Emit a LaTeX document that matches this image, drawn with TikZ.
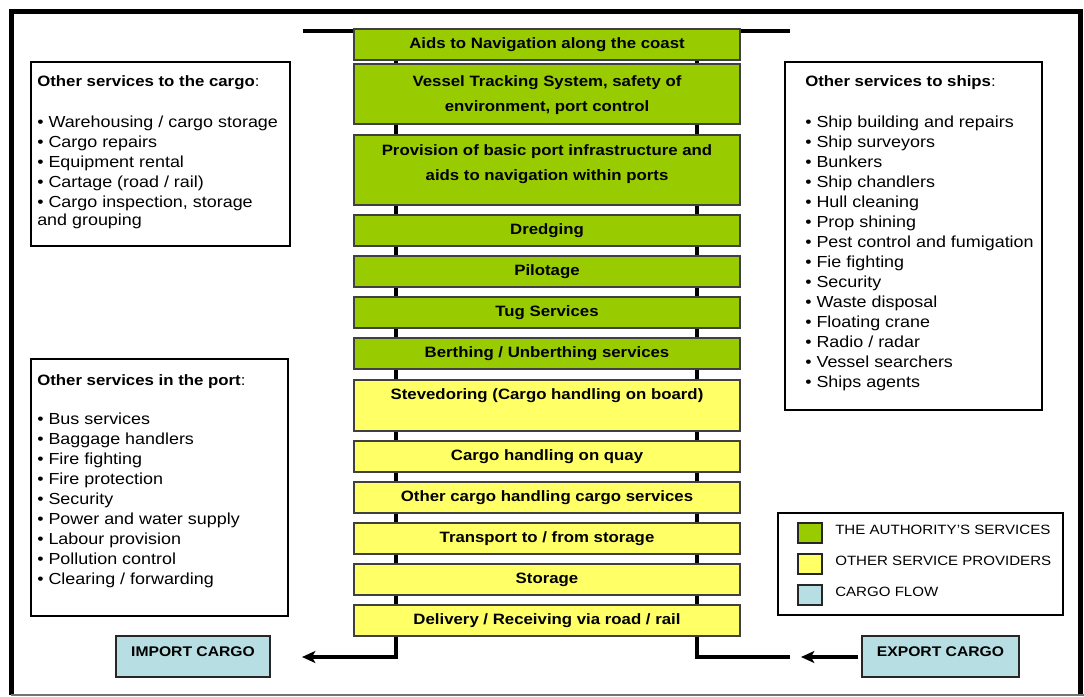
\documentclass[tikz,border=0pt]{standalone}
\usepackage{fontspec}
\setmainfont{Liberation Sans}[FakeStretch=1.12]
\usetikzlibrary{arrows.meta}
\definecolor{authgreen}{HTML}{99CC00}
\definecolor{provyellow}{HTML}{FFFF66}
\definecolor{flowcyan}{HTML}{B7DEE3}
\begin{document}
\begin{tikzpicture}[x=0.75pt,y=-0.75pt,
  svc/.style={draw=black!75, line width=1pt, minimum width=289.5pt, inner sep=0pt,
    font=\fontsize{11.25pt}{18.75pt}\selectfont\bfseries},
  auth/.style={svc, fill=authgreen},
  prov/.style={svc, fill=provyellow},
  one/.style={minimum height=23.25pt, text height=8.2pt, text depth=2.4pt},
  infobox/.style={draw=black, line width=1.2pt, inner sep=0pt},
  cargo/.style={draw=black!85, line width=1.2pt, fill=flowcyan, inner sep=0pt,
    minimum height=30.75pt, text height=7.5pt, text depth=8.25pt,
    font=\fontsize{10.5pt}{12pt}\selectfont\bfseries},
  swatch/.style={draw=black!85, line width=1pt, inner sep=0pt, minimum width=18pt, minimum height=15pt},
  item/.style={anchor=base west, inner sep=0pt, font=\fontsize{12pt}{14pt}\selectfont},
  ttl/.style={anchor=base west, inner sep=0pt, font=\fontsize{11.25pt}{14pt}\selectfont},
  lgd/.style={anchor=base west, inner sep=0pt, font=\fontsize{10.1pt}{12pt}\selectfont},
  frame/.style={line width=3.75pt},
  rail/.style={line width=3pt},
  flow/.style={line width=3pt, -{Stealth[length=10pt,width=9pt,inset=2.5pt]}}
]
\useasboundingbox (0,0) rectangle (1084,696);
% outer frame
\draw[frame] (11,695) -- (11,11) -- (1080.5,11) -- (1080.5,695);
\draw[draw=black!55, line width=0.9pt] (11,695) -- (1084,695);

% connector coordinates
\coordinate (tl) at (303,31);
\coordinate (tr) at (790,31);
\coordinate (rl) at (396,31);
\coordinate (rr) at (697,31);
\coordinate (cl) at (396,657);
\coordinate (cr) at (697,657);
\coordinate (impTip) at (302,657);
\coordinate (expEnd) at (790,657);
\coordinate (expStart) at (858,657);
\coordinate (expTip) at (801,657);

\draw[line width=3.5pt] (tl) -- (tr);
\draw[flow] (rl) -- (cl) -- (impTip);
\draw[rail] (rr) -- (cr) -- (expEnd);
\draw[flow] (expStart) -- (expTip);

% central column
\node[auth,one] (b1) at (547,44.5) {Aids to Navigation along the coast};
\node[auth,minimum height=45pt,text height=8.2pt,text depth=19.45pt] (b2) at (547,94)
  {\begin{tabular}[t]{@{}c@{}}Vessel Tracking System, safety of\\environment, port control\end{tabular}};
\node[auth,minimum height=52.5pt,text height=8.2pt,text depth=29.95pt] (b3) at (547,170)
  {\begin{tabular}[t]{@{}c@{}}Provision of basic port infrastructure and\\aids to navigation within ports\end{tabular}};
\node[auth,one] (b4) at (547,230.5) {Dredging};
\node[auth,one] (b5) at (547,271.5) {Pilotage};
\node[auth,one] (b6) at (547,312.5) {Tug Services};
\node[auth,one] (b7) at (547,353.5) {Berthing / Unberthing services};
\node[prov,minimum height=38.25pt,text height=8.2pt,text depth=17.95pt] (b8) at (547,405.5) {Stevedoring (Cargo handling on board)};
\node[prov,one] (b9) at (547,456.5) {Cargo handling on quay};
\node[prov,one] (b10) at (547,497.5) {Other cargo handling cargo services};
\node[prov,one] (b11) at (547,538.5) {Transport to / from storage};
\node[prov,one] (b12) at (547,579.5) {Storage};
\node[prov,one] (b13) at (547,620.5) {Delivery / Receiving via road / rail};

% cargo flow boxes
\node[cargo, minimum width=115.5pt] (imp) at (193,656.5) {IMPORT CARGO};
\node[cargo, minimum width=117.75pt] (exp) at (940.5,656.5) {EXPORT CARGO};

% info boxes
\node[infobox, minimum width=194.25pt, minimum height=138pt] (cargoBox) at (160.5,154) {};
\node[infobox, minimum width=192.75pt, minimum height=192.75pt] (portBox) at (159.5,487.5) {};
\node[infobox, minimum width=192.75pt, minimum height=261pt] (shipBox) at (913.5,236) {};
\node[infobox, minimum width=213.75pt, minimum height=76.5pt] (legend) at (920.5,564) {};

% services to the cargo
\node[ttl] (ca0) at (37,86) {\textbf{Other services to the cargo}:};
\node[item] (ca1) at (37,127) {• Warehousing / cargo storage};
\node[item] (ca2) at (37,147) {• Cargo repairs};
\node[item] (ca3) at (37,167) {• Equipment rental};
\node[item] (ca4) at (37,187) {• Cartage (road / rail)};
\node[item] (ca5) at (37,207) {• Cargo inspection, storage};
\node[item] (ca6) at (37,225) {and grouping};

% services in the port
\node[ttl] (po0) at (37,385) {\textbf{Other services in the port}:};
\node[item] (po1) at (37,424) {• Bus services};
\node[item] (po2) at (37,444) {• Baggage handlers};
\node[item] (po3) at (37,464) {• Fire fighting};
\node[item] (po4) at (37,484) {• Fire protection};
\node[item] (po5) at (37,504) {• Security};
\node[item] (po6) at (37,524) {• Power and water supply};
\node[item] (po7) at (37,544) {• Labour provision};
\node[item] (po8) at (37,564) {• Pollution control};
\node[item] (po9) at (37,584) {• Clearing / forwarding};

% services to ships
\node[ttl] (sh0) at (805,86) {\textbf{Other services to ships}:};
\node[item] (sh1) at (805,127) {• Ship building and repairs};
\node[item] (sh2) at (805,147) {• Ship surveyors};
\node[item] (sh3) at (805,167) {• Bunkers};
\node[item] (sh4) at (805,187) {• Ship chandlers};
\node[item] (sh5) at (805,207) {• Hull cleaning};
\node[item] (sh6) at (805,227) {• Prop shining};
\node[item] (sh7) at (805,247) {• Pest control and fumigation};
\node[item] (sh8) at (805,267) {• Fie fighting};
\node[item] (sh9) at (805,287) {• Security};
\node[item] (sh10) at (805,307) {• Waste disposal};
\node[item] (sh11) at (805,327) {• Floating crane};
\node[item] (sh12) at (805,347) {• Radio / radar};
\node[item] (sh13) at (805,367) {• Vessel searchers};
\node[item] (sh14) at (805,387) {• Ships agents};

% legend
\node[swatch, fill=authgreen] (sw1) at (810,533) {};
\node[swatch, fill=provyellow] (sw2) at (810,564) {};
\node[swatch, fill=flowcyan] (sw3) at (810,595) {};
\node[lgd] (lg1) at (835,534) {THE AUTHORITY’S SERVICES};
\node[lgd] (lg2) at (835,565) {OTHER SERVICE PROVIDERS};
\node[lgd] (lg3) at (835,596) {CARGO FLOW};
\end{tikzpicture}
\end{document}
